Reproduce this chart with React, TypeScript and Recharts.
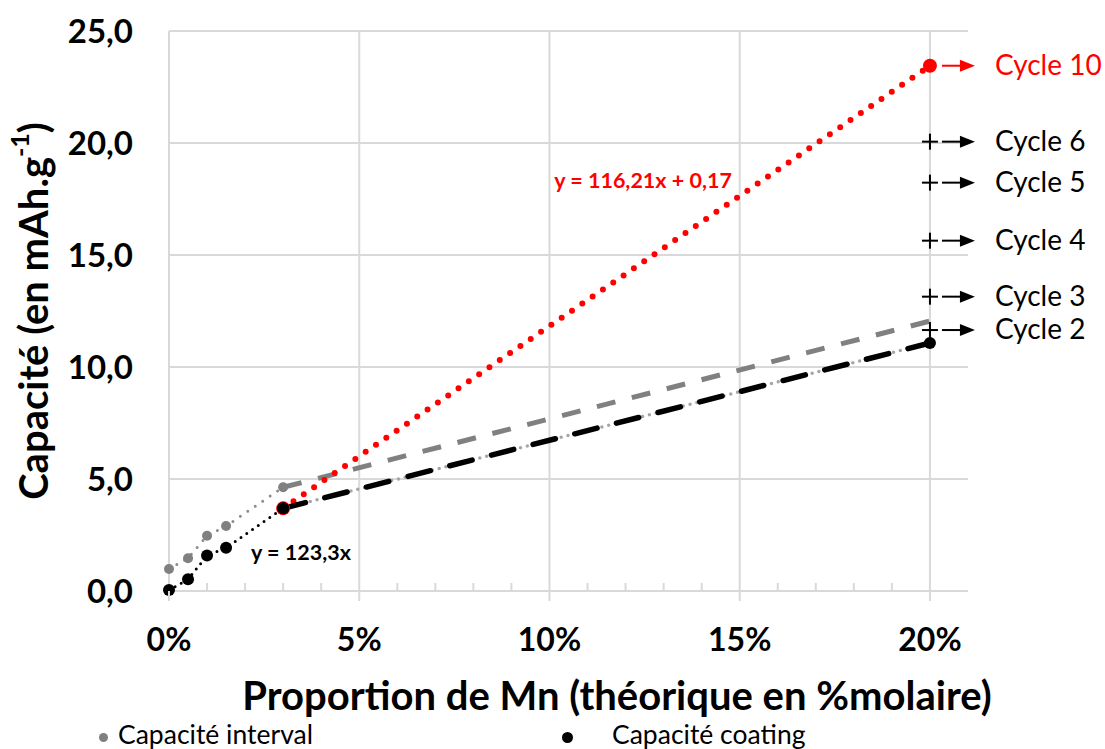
import React from "react"
import { ComposedChart, Line, Scatter, XAxis, YAxis, CartesianGrid, ReferenceDot } from "recharts"

// Mn proportion (%) and measured capacities (mAh/g)
const mnPct = [0, 0.5, 1, 1.5, 3, 20]
const capaInterval = [0.98, 1.46, 2.47, 2.9, 4.63, 12.05]
const capaCoating = [0.04, 0.52, 1.58, 1.93, 3.69, 11.07]

// Cycle 10 trend (red) at 3% and 20%
const cycle10Pct = [3, 20]
const cycle10Capa = [3.69, 23.45]

// cycle markers at 20%
const cycleNames = ["Cycle 10", "Cycle 6", "Cycle 5", "Cycle 4", "Cycle 3", "Cycle 2"]
const cycleCapa = [23.45, 20.06, 18.23, 15.64, 13.14, 11.65]

const xTicks = [0, 1, 2, 3, 4, 5, 6, 7, 8, 9, 10, 11, 12, 13, 14, 15, 16, 17, 18, 19, 20]
const xMajor = [0, 5, 10, 15, 20]
const yTicks = [0, 5, 10, 15, 20, 25]

const trendRed = { text: "y = 116,21x + 0,17", x: 12.46, y: 18.35 }
const trendBlack = { text: "y = 123,3x", x: 3.47, y: 1.74 }

const FONT = "Lato, 'Open Sans', sans-serif"

const pts = (xs: number[], ys: number[]) => xs.map((x, i) => ({ x, y: ys[i] }))

const intervalLow = pts(mnPct.slice(0, 5), capaInterval.slice(0, 5))
const intervalHigh = pts(mnPct.slice(4), capaInterval.slice(4))
const coatingLow = pts(mnPct.slice(0, 5), capaCoating.slice(0, 5))
const coatingHigh = pts(mnPct.slice(4), capaCoating.slice(4))
const cycle10 = pts(cycle10Pct, cycle10Capa)
const cycles = cycleNames.map((name, i) => ({ x: 20, y: cycleCapa[i], name }))

const XTick = (props: any) => {
  const { x, y, payload } = props
  const v = payload.value
  if (xMajor.includes(v)) {
    return (
      <g>
        <line x1={x} x2={x} y1={y} y2={y + 10} stroke="#d9d9d9" strokeWidth={2} />
        <text x={x} y={y + 60} textAnchor="middle" fontSize={32} fontWeight="bold" fill="#000" fontFamily={FONT}>
          {v}%
        </text>
      </g>
    )
  }
  return <line x1={x} x2={x} y1={y - 8} y2={y} stroke="#d9d9d9" strokeWidth={2} />
}

const CycleMark = (props: any) => {
  const { cx, cy, payload } = props
  const red = payload.name === "Cycle 10"
  const c = red ? "#ff0000" : "#000"
  return (
    <g>
      {!red && (
        <g stroke="#000" strokeWidth={2}>
          <line x1={cx - 8} x2={cx + 8} y1={cy} y2={cy} />
          <line x1={cx} x2={cx} y1={cy - 8} y2={cy + 8} />
        </g>
      )}
      <line x1={cx + 12} x2={cx + 32} y1={cy} y2={cy} stroke={c} strokeWidth={2} />
      <polygon points={`${cx + 30},${cy - 6} ${cx + 45},${cy} ${cx + 30},${cy + 6}`} fill={c} />
      <text x={cx + 65} y={cy + 9} fontSize={28} fill={c} fontFamily={FONT}>
        {payload.name}
      </text>
    </g>
  )
}

const YTitle = (props: any) => {
  const { viewBox } = props
  const cx = viewBox.x + 33
  const cy = viewBox.y + viewBox.height / 2
  return (
    <text
      transform={`translate(${cx},${cy}) rotate(-90)`}
      textAnchor="middle"
      dominantBaseline="central"
      fontSize={40}
      fontWeight="bold"
      fontFamily={FONT}
      fill="#000"
    >
      <tspan>Capacité (en mAh.g</tspan>
      <tspan dy={-14} fontSize={25}>-1</tspan>
      <tspan dy={14}>)</tspan>
    </text>
  )
}

const XTitle = (props: any) => {
  const { viewBox } = props
  return (
    <text
      x={viewBox.x + 448}
      y={viewBox.y + 119}
      textAnchor="middle"
      fontSize={40}
      fontWeight="bold"
      fontFamily={FONT}
      fill="#000"
    >
      Proportion de Mn (théorique en %molaire)
    </text>
  )
}

export default function App() {
  return (
    <div style={{ position: "absolute", left: 0, top: 0, width: 1105, height: 749, background: "#fff" }}>
      <ComposedChart width={1105} height={749} margin={{ top: 31, right: 137, left: 0, bottom: 0 }}>
        <CartesianGrid stroke="#d9d9d9" strokeWidth={2} verticalValues={xMajor} horizontalValues={yTicks} />
        <XAxis
          dataKey="x"
          type="number"
          domain={[0, 21]}
          ticks={xTicks}
          interval={0}
          height={158}
          tickSize={0}
          tickMargin={0}
          tickLine={false}
          axisLine={{ stroke: "#d9d9d9", strokeWidth: 2 }}
          tick={<XTick />}
          label={<XTitle />}
        />
        <YAxis
          dataKey="y"
          type="number"
          domain={[0, 25]}
          ticks={yTicks}
          width={169}
          axisLine={false}
          tickLine={false}
          tickSize={0}
          tickMargin={36}
          tickFormatter={(v: number) => v.toFixed(1).replace(".", ",")}
          tick={{ fontSize: 33, fontWeight: "bold", fill: "#000", fontFamily: FONT }}
          label={<YTitle />}
        />

        <Line data={intervalLow} dataKey="y" stroke="#8c8c8c" strokeWidth={3} strokeDasharray="0 9" strokeLinecap="round"
          dot={{ r: 5, fill: "#808080", stroke: "none" }} isAnimationActive={false} />
        <Line data={intervalHigh} dataKey="y" stroke="#808080" strokeWidth={5} strokeDasharray="19 17"
          dot={false} isAnimationActive={false} />
        <Line data={cycle10} dataKey="y" stroke="#ff0000" strokeWidth={6} strokeDasharray="0 12.5" strokeLinecap="round"
          dot={{ r: 7, fill: "#ff0000", stroke: "none" }} isAnimationActive={false} />
        <Line data={coatingHigh} dataKey="y" stroke="#a6a6a6" strokeWidth={3.5} strokeDasharray="0 7" strokeLinecap="round"
          dot={false} isAnimationActive={false} />
        <Line data={coatingHigh} dataKey="y" stroke="#000" strokeWidth={5.5} strokeDasharray="23 20" strokeLinecap="round"
          dot={{ r: 6, fill: "#000", stroke: "none" }} isAnimationActive={false} />
        <Line data={coatingLow} dataKey="y" stroke="#000" strokeWidth={3} strokeDasharray="0 7" strokeLinecap="round"
          dot={{ r: 6, fill: "#000", stroke: "none" }} isAnimationActive={false} />
        <Scatter data={cycles} dataKey="y" shape={<CycleMark />} isAnimationActive={false} />

        <ReferenceDot x={trendRed.x} y={trendRed.y} r={0} stroke="none"
          label={{ value: trendRed.text, position: "center", fill: "#ff0000", fontSize: 21.5, fontWeight: "bold", fontFamily: FONT }} />
        <ReferenceDot x={trendBlack.x} y={trendBlack.y} r={0} stroke="none"
          label={{ value: trendBlack.text, position: "center", fill: "#000", fontSize: 21.5, fontWeight: "bold", fontFamily: FONT }} />
      </ComposedChart>

      <div style={{ position: "absolute", top: 718, left: 0, width: 1105, height: 36, fontFamily: FONT, fontSize: 26.5, color: "#000" }}>
        <span style={{ position: "absolute", left: 99, top: 15, width: 9, height: 9, borderRadius: "50%", background: "#808080" }} />
        <span style={{ position: "absolute", left: 118, top: 0, whiteSpace: "nowrap" }}>Capacité interval</span>
        <span style={{ position: "absolute", left: 562, top: 14, width: 11, height: 11, borderRadius: "50%", background: "#000" }} />
        <span style={{ position: "absolute", left: 612, top: 0, whiteSpace: "nowrap" }}>Capacité coating</span>
      </div>
    </div>
  )
}
